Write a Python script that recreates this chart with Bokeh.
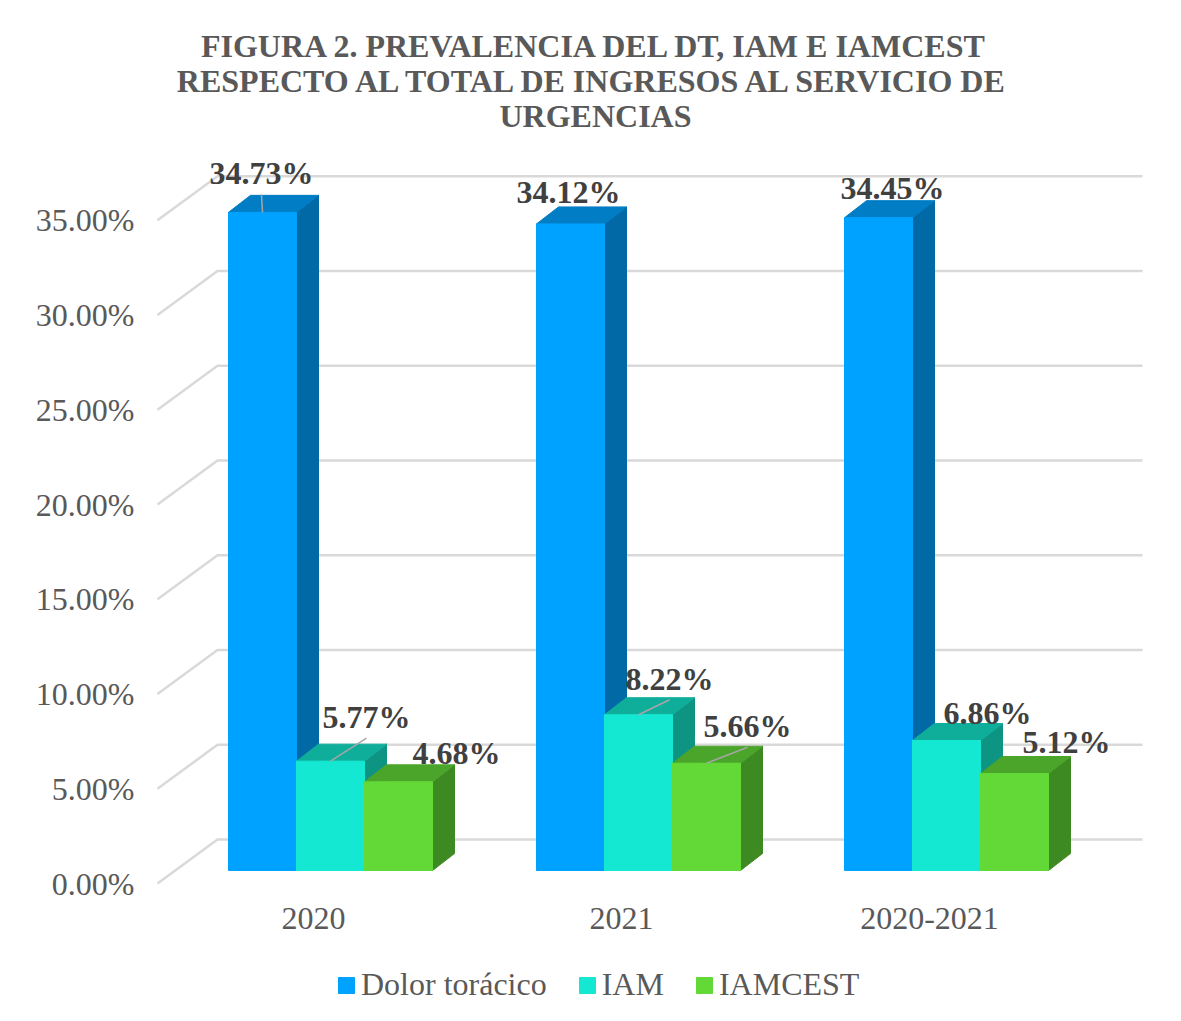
from bokeh.plotting import figure
from bokeh.models import Range1d, FixedTicker, PrintfTickFormatter, Legend, LegendItem
from bokeh.core.properties import value
from bokeh.embed import file_html
from bokeh.resources import INLINE

# ---------------- data ----------------
CATEGORIES = ["2020", "2021", "2020-2021"]
SERIES_NAMES = ["Dolor torácico", "IAM", "IAMCEST"]
DOLOR_TORACICO = [34.73, 34.12, 34.45]
IAM = [5.77, 8.22, 6.86]
IAMCEST = [4.68, 5.66, 5.12]
Y_TICKS = [0, 5, 10, 15, 20, 25, 30, 35]
TITLE_LINES = [
    "FIGURA 2. PREVALENCIA DEL DT, IAM E IAMCEST",
    "RESPECTO AL TOTAL DE INGRESOS AL SERVICIO DE",
    "URGENCIAS",
]

# ---------------- styles ----------------
FONT = "Liberation Serif"
FRONT = ["#00A2FF", "#15E8D2", "#62D937"]
TOP = ["#007DC4", "#0FAE9B", "#4BA52A"]
SIDE = ["#0069A6", "#0D9482", "#3E8A22"]
GRID_COLOR = "#D9D9D9"
AXIS_TEXT = "#595959"
LABEL_TEXT = "#404040"

# ---------------- layout / projection geometry (pixels) ----------------
W, H = 1181, 1021
LEFT = 140
X0_PX, X_STEP = 313.0, 308.0     # screen x of category 0 (front floor), px per category
Y0_PX, Y_STEP = 883.0, 18.95     # screen y of 0 on front wall edge, px per percentage point


def dxu(px):
    return px / X_STEP


def dyu(px):
    return px / Y_STEP


WALL_FRONT_X = dxu(157 - X0_PX)
WALL_DX, WALL_DY = dxu(60), dyu(44)
GRID_END_X = dxu(1142 - X0_PX)
BAR_W = dxu(68)
BAR_OFF_X, BAR_OFF_Y = dxu(17), dyu(13)     # bars stand halfway in the floor depth
DEPTH_X, DEPTH_Y = dxu(22), dyu(17)         # bar depth
# data-label offsets (px) relative to the top-front centre of each bar: [category][series]
LABEL_OFFSETS = [
    [(-1, -39), (36, -44), (58, -29)],
    [(-2, -32), (31, -36), (41, -37)],
    [(14, -30), (41, -28), (52, -31)],
]
LEADERS = [
    [True, True, False],
    [False, True, True],
    [False, False, False],
]

p = figure(
    width=W, height=H, output_backend="svg", toolbar_location=None,
    x_range=Range1d((LEFT - X0_PX) / X_STEP, (W - X0_PX) / X_STEP),
    y_range=Range1d((Y0_PX - H) / Y_STEP, Y0_PX / Y_STEP),
    x_axis_location=None, y_axis_location="left",
    min_border_left=LEFT, min_border_right=0, min_border_top=0, min_border_bottom=0,
    background_fill_color="white", border_fill_color="white",
)
p.outline_line_color = None
p.xgrid.visible = False
p.ygrid.visible = False

ax = p.yaxis[0]
ax.ticker = FixedTicker(ticks=Y_TICKS)
ax.formatter = PrintfTickFormatter(format="%.2f%%")
ax.axis_line_color = None
ax.major_tick_line_color = None
ax.minor_tick_line_color = None
ax.major_tick_in = 0
ax.major_tick_out = 0
ax.major_label_standoff = 6
ax.major_label_text_font = FONT
ax.major_label_text_font_size = "32px"
ax.major_label_text_color = AXIS_TEXT

# perspective gridlines (side wall diagonal + back wall horizontal)
gx = [[WALL_FRONT_X, WALL_FRONT_X + WALL_DX, GRID_END_X] for t in Y_TICKS]
gy = [[t, t + WALL_DY, t + WALL_DY] for t in Y_TICKS]
p.multi_line(gx, gy, line_color=GRID_COLOR, line_width=2.5)

# bars
series_values = [DOLOR_TORACICO, IAM, IAMCEST]
legend_items = []
label_x, label_y, label_txt = [], [], []
lead_x0, lead_y0, lead_x1, lead_y1 = [], [], [], []
for j, vals in enumerate(series_values):
    left = [i + BAR_OFF_X + (j - 1.5) * BAR_W for i in range(len(CATEGORIES))]
    right = [l + BAR_W for l in left]
    bottom = [BAR_OFF_Y for _ in vals]
    top = [BAR_OFF_Y + v for v in vals]
    side_xs = [[r, r, r + DEPTH_X, r + DEPTH_X] for r in right]
    side_ys = [[b, t, t + DEPTH_Y, b + DEPTH_Y] for b, t in zip(bottom, top)]
    top_xs = [[l, r, r + DEPTH_X, l + DEPTH_X] for l, r in zip(left, right)]
    top_ys = [[t, t, t + DEPTH_Y, t + DEPTH_Y] for t in top]
    p.patches(side_xs, side_ys, fill_color=SIDE[j], line_color=SIDE[j], line_width=1)
    p.patches(top_xs, top_ys, fill_color=TOP[j], line_color=TOP[j], line_width=1)
    fr = p.quad(left=left, right=right, bottom=bottom, top=top,
                fill_color=FRONT[j], line_color=FRONT[j], line_width=1)
    legend_items.append(LegendItem(label=SERIES_NAMES[j], renderers=[fr]))
    for i, v in enumerate(vals):
        cx = (left[i] + right[i]) / 2
        ox, oy = LABEL_OFFSETS[i][j]
        lx, ly = cx + dxu(ox), top[i] - dyu(oy)
        label_x.append(lx)
        label_y.append(ly)
        label_txt.append(f"{v:.2f}%")
        if LEADERS[i][j]:
            lead_x0.append(cx)
            lead_y0.append(top[i])
            lead_x1.append(lx)
            lead_y1.append(ly - dyu(21))

p.segment(lead_x0, lead_y0, lead_x1, lead_y1, line_color="#A6A6A6", line_width=1.5)
p.text(x=label_x, y=label_y, text=label_txt, text_align="center", text_baseline="middle",
       text_font=value(FONT), text_font_size="32px", text_font_style="bold", text_color=LABEL_TEXT)

# category labels on the front floor edge
p.text(x=list(range(len(CATEGORIES))), y=[dyu(883 - 918)] * len(CATEGORIES), text=CATEGORIES,
       text_align="center", text_baseline="middle", text_font=value(FONT),
       text_font_size="32px", text_color=AXIS_TEXT)

# title
title_x = dxu(595 - X0_PX)
title_y = [dyu(Y0_PX - yy) for yy in (45, 80, 115)]
p.text(x=[title_x] * 3, y=title_y, text=TITLE_LINES, text_align="center", text_baseline="middle",
       text_font=value(FONT), text_font_size="32px", text_font_style="bold", text_color=AXIS_TEXT)

legend = Legend(items=legend_items, location=(196, 18), orientation="horizontal",
                glyph_width=20, glyph_height=20, label_standoff=5, spacing=30,
                label_text_font=FONT, label_text_font_size="32px", label_text_color=AXIS_TEXT,
                border_line_color=None, background_fill_alpha=0, padding=0, margin=0)
p.add_layout(legend)

open("out.html", "w").write(file_html(p, INLINE))
